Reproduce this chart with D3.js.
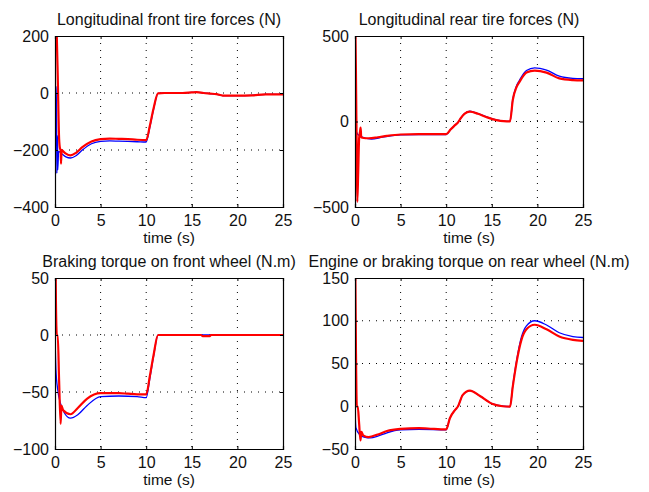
<!DOCTYPE html>
<html>
<head>
<meta charset="utf-8">
<script src="https://cdn.jsdelivr.net/npm/d3@7"></script>
<style>
  body { margin: 0; background: #fff; }
  svg { display: block; font-family: "Liberation Sans", Arial, Helvetica, sans-serif; }
</style>
</head>
<body>
<svg id="chart" width="649" height="492"></svg>
<script>
// ---------- DATA ----------
const xTicks = [0, 5, 10, 15, 20, 25];

// Panel 1: Longitudinal front tire forces (N)
const frontForceTicks = [-400, -200, 0, 200];
const frontForceRedT = [0, 0.12, 0.3, 0.45, 0.55, 0.62, 0.66, 0.72, 0.9, 1.2, 1.7, 2.3, 3, 4, 5, 6, 7, 8, 9, 10, 10.4, 10.8, 11.3, 12, 13, 14, 15, 15.5, 16.3, 17, 17.7, 18.4, 20, 21.6, 23.1, 25];
const frontForceRedV = [420, 300, 60, -160, -195, -200, -248, -200, -205, -213, -219, -210, -190, -170, -162, -160, -161, -162, -164, -165, -115, -55, -1, 0, 0, 0, 2, 3, 0, -2, -4, -9, -9, -8, -5, -5];
const frontForceBlueT = [0, 0.15, 0.2, 0.27, 0.3, 0.4, 0.7, 1.2, 1.7, 2.3, 3, 4, 5, 6, 7, 8, 9, 10, 10.4, 10.8, 11.3, 12, 13, 14, 15, 15.5, 16.3, 17, 17.7, 18.4, 20, 21.6, 23.1, 25];
const frontForceBlueV = [0, 22, -282, -150, -270, -205, -212, -224, -228, -220, -200, -178, -170, -168, -169, -170, -171, -172, -120, -58, -1, 0, 0, 0, 2, 3, 0, -2, -4, -9, -9, -8, -5, -5];

// Panel 2: Longitudinal rear tire forces (N)
const rearForceTicks = [-500, 0, 500];
const rearForceRedT = [0, 0.1, 0.15, 0.2, 0.25, 0.35, 0.45, 0.55, 0.62, 0.68, 0.8, 1.5, 2.5, 3.5, 5, 7, 9, 10, 10.5, 11, 11.3, 11.6, 12, 12.6, 13.5, 14.5, 15.5, 16.3, 17, 17.3, 17.7, 18.05, 18.5, 18.8, 19.7, 21, 22.4, 23.9, 25];
const rearForceRedV = [700, 300, 26, -200, -470, -300, -100, -60, -36, -90, -95, -98, -92, -84, -76, -74, -74, -74, -45, -20, -5, 20, 45, 58, 45, 24, 8, 2, 1, 126, 200, 233, 270, 286, 298, 286, 252, 242, 240];
const rearForceBlueT = [0, 0.05, 0.1, 0.3, 1, 1.8, 3, 5, 7, 10, 10.5, 11, 11.3, 11.6, 12, 12.6, 13.5, 14.5, 15.5, 16.3, 17, 17.3, 17.7, 18.05, 18.5, 18.8, 19.7, 21, 22.4, 23.9, 25];
const rearForceBlueV = [600, -490, -60, -75, -95, -103, -92, -78, -76, -77, -46, -21, -5, 20, 46, 60, 46, 25, 9, 2, 1, 130, 207, 242, 282, 298, 314, 300, 265, 252, 250];

// Panel 3: Braking torque on front wheel (N.m)
const frontTorqueTicks = [-100, -50, 0, 50];
const frontTorqueRedT = [0, 0.1, 0.2, 0.3, 0.45, 0.62, 0.7, 0.9, 1.7, 2.5, 3.5, 5, 7, 8, 9, 10, 10.4, 10.8, 11.3, 16, 16.2, 17, 17.1, 25];
const frontTorqueRedV = [120, 30, 0, 0, -40, -78, -62, -66, -69.5, -64, -56, -51, -51, -51.5, -52, -52, -36, -18, 0, 0, -1, -1, 0, 0];
const frontTorqueBlueT = [0, 0.1, 0.3, 0.6, 1, 1.7, 2.5, 3.5, 5, 7, 9, 10, 10.4, 10.8, 11.3, 25];
const frontTorqueBlueV = [0, -30, -48, -60, -68, -73, -70, -62, -54, -53.5, -54, -55, -38, -19, 0, 0];

// Panel 4: Engine or braking torque on rear wheel (N.m)
const rearTorqueTicks = [-50, 0, 50, 100, 150];
const rearTorqueRedT = [0, 0.1, 0.2, 0.3, 0.45, 0.6, 0.7, 0.9, 1.5, 2.5, 3.5, 5, 7, 8, 10, 10.4, 11, 11.3, 11.8, 12.6, 13.7, 15.1, 16.2, 17, 17.3, 17.76, 18.25, 18.8, 19.7, 21, 22.4, 23.9, 25];
const rearTorqueRedV = [200, 70, 0, 0, -20, -40, -30, -34, -36, -33, -29, -26.5, -25.5, -26, -27, -14, -4, 0, 13, 18.3, 12, 2.7, 0, -0.5, 23, 54, 77.7, 90, 95.3, 90, 81.6, 77.7, 76.5];
const rearTorqueBlueT = [0, 0.1, 0.5, 1, 1.7, 2.5, 3.5, 5, 7, 10, 10.4, 11, 11.3, 11.8, 12.6, 13.7, 15.1, 16.2, 17, 17.3, 17.76, 18.25, 18.8, 19.7, 21, 22.4, 23.9, 25];
const rearTorqueBlueV = [-5, -25, -33, -36, -37, -35, -31, -27.5, -27, -27.5, -14, -4, 0, 13, 18.3, 12, 2.7, 0, -0.5, 24, 56, 81, 94, 100, 95, 86, 81.5, 80.4];

const titles = [
  "Longitudinal front tire forces (N)",
  "Longitudinal rear tire forces (N)",
  "Braking torque on front wheel (N.m)",
  "Engine or braking torque on rear wheel (N.m)"
];
const xLabel = "time (s)";

// ---------- LAYOUT ----------
const boxes = [
  { left: 55, right: 283, top: 36, bottom: 207 },
  { left: 355, right: 583, top: 36, bottom: 207 },
  { left: 55, right: 283, top: 278, bottom: 449 },
  { left: 355, right: 583, top: 278, bottom: 449 }
];

const zip = (t, v) => t.map((d, i) => ({ t: d, v: v[i] }));
const panels = [
  { ticks: frontForceTicks, red: zip(frontForceRedT, frontForceRedV), blue: zip(frontForceBlueT, frontForceBlueV) },
  { ticks: rearForceTicks, red: zip(rearForceRedT, rearForceRedV), blue: zip(rearForceBlueT, rearForceBlueV) },
  { ticks: frontTorqueTicks, red: zip(frontTorqueRedT, frontTorqueRedV), blue: zip(frontTorqueBlueT, frontTorqueBlueV) },
  { ticks: rearTorqueTicks, red: zip(rearTorqueRedT, rearTorqueRedV), blue: zip(rearTorqueBlueT, rearTorqueBlueV) }
];

const svg = d3.select("#chart");
const fmt = d3.format("");
const defs = svg.append("defs");

panels.forEach((p, i) => {
  const b = boxes[i];
  const w = b.right - b.left, h = b.bottom - b.top;
  const x = d3.scaleLinear().domain([0, 25]).range([0, w]);
  const yDom = d3.extent(p.ticks);
  const y = d3.scaleLinear().domain(yDom).range([h, 0]);

  const g = svg.append("g").attr("transform", `translate(${b.left},${b.top})`);

  defs.append("clipPath").attr("id", "clip" + i)
    .append("rect").attr("x", 0).attr("y", 0).attr("width", w).attr("height", h);

  // grid (dotted)
  const grid = g.append("g").attr("class", "grid");
  grid.selectAll("line.gx").data(xTicks.slice(1, -1)).join("line")
    .attr("x1", d => x(d)).attr("x2", d => x(d)).attr("y1", 0).attr("y2", h)
    .attr("stroke", "#000").attr("stroke-width", 1).attr("stroke-dasharray", "1,6");
  grid.selectAll("line.gy").data(p.ticks.slice(1, -1)).join("line")
    .attr("y1", d => y(d)).attr("y2", d => y(d)).attr("x1", 0).attr("x2", w)
    .attr("stroke", "#000").attr("stroke-width", 1).attr("stroke-dasharray", "1,6");

  // data lines
  const line = d3.line().x(d => x(d.t)).y(d => y(d.v)).curve(d3.curveMonotoneX);
  const lines = g.append("g").attr("clip-path", `url(#clip${i})`);
  lines.append("path").datum(p.blue).attr("d", line)
    .attr("fill", "none").attr("stroke", "#0000ff").attr("stroke-width", 1.3).attr("stroke-linejoin", "round");
  lines.append("path").datum(p.red).attr("d", line)
    .attr("fill", "none").attr("stroke", "#ff0000").attr("stroke-width", 2.2).attr("stroke-linejoin", "round");

  // axes with inward ticks on all sides
  const axB = g.append("g").attr("transform", `translate(0,${h})`)
    .call(d3.axisBottom(x).tickValues(xTicks).tickSize(-3).tickPadding(8).tickFormat(fmt));
  const axT = g.append("g")
    .call(d3.axisTop(x).tickValues(xTicks).tickSize(-3).tickFormat(""));
  const axL = g.append("g")
    .call(d3.axisLeft(y).tickValues(p.ticks).tickSize(-3).tickPadding(6).tickFormat(fmt));
  const axR = g.append("g").attr("transform", `translate(${w},0)`)
    .call(d3.axisRight(y).tickValues(p.ticks).tickSize(-3).tickFormat(""));
  [axB, axT, axL, axR].forEach(a => {
    a.select(".domain").attr("stroke", "#000").attr("stroke-width", 1.2);
    a.selectAll(".tick line").attr("stroke", "#000");
    a.selectAll("text").attr("font-size", 16).attr("fill", "#111")
      .attr("font-family", "'Liberation Sans', Arial, sans-serif");
  });
  axB.selectAll("text").attr("dy", "0.71em");

  // title
  g.append("text").attr("x", w / 2).attr("y", -11)
    .attr("text-anchor", "middle").attr("font-size", 16).attr("fill", "#111")
    .text(titles[i]);
  // x label
  g.append("text").attr("x", w / 2).attr("y", h + 36)
    .attr("text-anchor", "middle").attr("font-size", 15.5).attr("fill", "#111")
    .text(xLabel);
});
</script>
</body>
</html>
